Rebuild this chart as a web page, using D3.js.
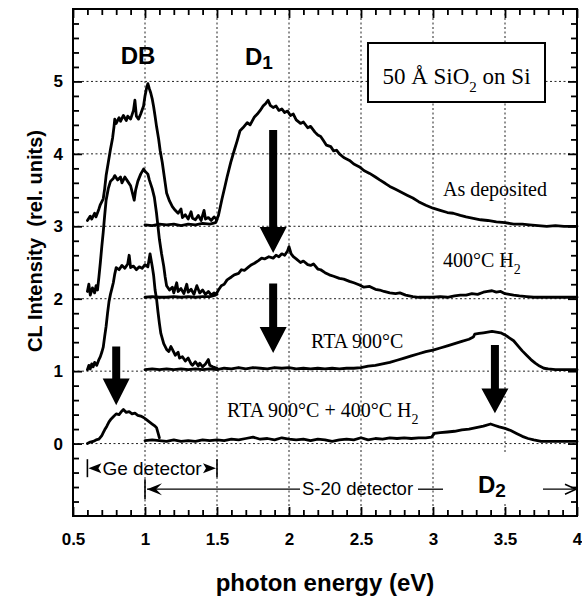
<!DOCTYPE html>
<html>
<head>
<meta charset="utf-8">
<script src="https://cdn.jsdelivr.net/npm/d3@7"></script>
<style>
  html, body { margin: 0; padding: 0; background: #fff; }
  svg { display: block; }
</style>
</head>
<body>
<svg id="chart" width="582" height="598"></svg>
<script>
// Cathodoluminescence spectra of 50 Å SiO2 on Si, offset by one unit per treatment.
// Each spectrum has a Ge-detector segment (0.6–1.5 eV) and an S-20 segment (1.0–4.0 eV).

const xTicksMajor = [0.5, 1, 1.5, 2, 2.5, 3, 3.5, 4];
const yTicksMajor = [0, 1, 2, 3, 4, 5];
const xGrid = [1, 1.5, 2, 2.5, 3, 3.5];
const yGrid = [0, 1, 2, 3, 4, 5];

// As deposited (offset 3)
const asDepGe = [[0.60,3.08],[0.62,3.14],[0.63,3.10],[0.65,3.18],[0.66,3.13],[0.68,3.24],[0.69,3.30],[0.71,3.38],[0.72,3.52],[0.73,3.70],[0.745,3.88],[0.76,4.06],[0.775,4.22],[0.785,4.38],[0.79,4.48],[0.80,4.42],[0.82,4.50],[0.83,4.45],[0.85,4.53],[0.87,4.46],[0.88,4.52],[0.90,4.48],[0.92,4.60],[0.93,4.74],[0.94,4.52],[0.955,4.48],[0.97,4.55],[0.99,4.66],[1.00,4.80],[1.01,4.90],[1.02,4.97],[1.03,4.90],[1.04,4.84],[1.05,4.76],[1.06,4.65],[1.07,4.52],[1.08,4.38],[1.095,4.20],[1.105,4.05],[1.12,3.88],[1.13,3.74],[1.14,3.60],[1.15,3.46],[1.17,3.35],[1.19,3.27],[1.21,3.22],[1.23,3.18],[1.25,3.24],[1.26,3.12],[1.28,3.16],[1.30,3.10],[1.32,3.20],[1.33,3.11],[1.35,3.09],[1.37,3.15],[1.39,3.08],[1.41,3.22],[1.42,3.10],[1.44,3.12],[1.46,3.08],[1.48,3.13],[1.50,3.09]];
const asDepS20 = [[1.00,3.02],[1.05,3.01],[1.10,3.03],[1.15,3.02],[1.20,3.03],[1.25,3.01],[1.30,3.03],[1.35,3.02],[1.40,3.04],[1.45,3.03],[1.49,3.05],[1.51,3.15],[1.535,3.38],[1.555,3.55],[1.57,3.68],[1.595,3.88],[1.62,4.05],[1.64,4.18],[1.66,4.32],[1.68,4.36],[1.71,4.43],[1.73,4.40],[1.76,4.51],[1.78,4.55],[1.80,4.60],[1.82,4.66],[1.84,4.70],[1.855,4.74],[1.87,4.67],[1.89,4.64],[1.91,4.66],[1.93,4.60],[1.95,4.62],[1.97,4.57],[1.99,4.59],[2.01,4.53],[2.03,4.55],[2.05,4.47],[2.08,4.42],[2.10,4.44],[2.13,4.36],[2.15,4.38],[2.18,4.30],[2.20,4.26],[2.22,4.24],[2.24,4.18],[2.26,4.12],[2.29,4.10],[2.31,4.04],[2.33,4.05],[2.35,4.00],[2.38,3.95],[2.42,3.91],[2.45,3.86],[2.49,3.82],[2.52,3.77],[2.56,3.73],[2.60,3.68],[2.63,3.64],[2.67,3.59],[2.70,3.55],[2.74,3.51],[2.77,3.48],[2.82,3.43],[2.86,3.39],[2.90,3.34],[2.95,3.29],[3.00,3.25],[3.05,3.22],[3.10,3.19],[3.14,3.18],[3.19,3.15],[3.23,3.13],[3.28,3.11],[3.33,3.09],[3.38,3.08],[3.44,3.06],[3.50,3.05],[3.56,3.03],[3.62,3.03],[3.67,3.02],[3.73,3.01],[3.79,3.00],[3.85,3.01],[3.91,3.00],[3.97,3.00],[4.00,3.00]];

// 400 °C H2 anneal (offset 2)
const h2Ge = [[0.60,2.10],[0.61,2.20],[0.62,2.05],[0.635,2.15],[0.65,2.08],[0.66,2.18],[0.67,2.12],[0.68,2.30],[0.69,2.50],[0.70,2.72],[0.71,2.92],[0.72,3.15],[0.73,3.36],[0.745,3.52],[0.76,3.62],[0.78,3.66],[0.79,3.70],[0.81,3.64],[0.83,3.68],[0.84,3.60],[0.86,3.68],[0.88,3.62],[0.90,3.56],[0.91,3.48],[0.925,3.36],[0.935,3.50],[0.95,3.62],[0.97,3.72],[0.99,3.79],[1.00,3.76],[1.02,3.72],[1.03,3.64],[1.05,3.52],[1.065,3.40],[1.08,3.18],[1.09,3.00],[1.10,2.82],[1.115,2.62],[1.13,2.45],[1.14,2.30],[1.15,2.18],[1.17,2.12],[1.19,2.16],[1.20,2.08],[1.22,2.22],[1.23,2.10],[1.25,2.14],[1.27,2.07],[1.29,2.20],[1.30,2.09],[1.32,2.13],[1.34,2.06],[1.36,2.18],[1.38,2.08],[1.40,2.12],[1.42,2.06],[1.44,2.10],[1.46,2.05],[1.48,2.08],[1.50,2.06]];
const h2S20 = [[1.00,2.02],[1.05,2.03],[1.10,2.02],[1.15,2.02],[1.20,2.03],[1.25,2.02],[1.30,2.03],[1.35,2.02],[1.40,2.03],[1.45,2.03],[1.49,2.05],[1.51,2.12],[1.53,2.18],[1.55,2.20],[1.57,2.26],[1.60,2.30],[1.62,2.33],[1.65,2.35],[1.67,2.40],[1.69,2.39],[1.72,2.44],[1.74,2.47],[1.76,2.49],[1.79,2.53],[1.81,2.56],[1.83,2.55],[1.86,2.58],[1.89,2.56],[1.91,2.60],[1.93,2.58],[1.95,2.62],[1.97,2.60],[1.99,2.66],[2.00,2.72],[2.015,2.62],[2.03,2.58],[2.05,2.55],[2.08,2.50],[2.10,2.52],[2.13,2.47],[2.15,2.46],[2.17,2.48],[2.20,2.41],[2.22,2.40],[2.25,2.36],[2.28,2.33],[2.31,2.31],[2.35,2.28],[2.38,2.27],[2.42,2.24],[2.45,2.22],[2.49,2.19],[2.52,2.16],[2.56,2.17],[2.60,2.13],[2.63,2.12],[2.66,2.10],[2.70,2.08],[2.74,2.07],[2.77,2.08],[2.81,2.05],[2.86,2.03],[2.90,2.02],[2.95,2.02],[3.00,2.02],[3.05,2.03],[3.10,2.02],[3.15,2.04],[3.19,2.05],[3.23,2.05],[3.27,2.07],[3.31,2.06],[3.35,2.09],[3.38,2.10],[3.41,2.11],[3.44,2.09],[3.47,2.10],[3.50,2.07],[3.53,2.06],[3.56,2.05],[3.60,2.04],[3.65,2.03],[3.70,2.02],[3.76,2.02],[3.82,2.02],[3.88,2.02],[3.94,2.02],[4.00,2.02]];

// RTA 900 °C (offset 1)
const rtaGe = [[0.60,1.02],[0.61,1.08],[0.62,1.03],[0.63,1.10],[0.64,1.06],[0.65,1.12],[0.665,1.08],[0.68,1.16],[0.69,1.20],[0.70,1.26],[0.71,1.33],[0.72,1.48],[0.73,1.62],[0.74,1.80],[0.75,1.96],[0.76,2.06],[0.77,2.14],[0.78,2.22],[0.79,2.34],[0.80,2.43],[0.82,2.40],[0.84,2.46],[0.86,2.42],[0.88,2.48],[0.89,2.60],[0.90,2.43],[0.92,2.45],[0.94,2.40],[0.96,2.44],[0.98,2.42],[1.00,2.47],[1.02,2.44],[1.035,2.62],[1.05,2.45],[1.06,2.32],[1.07,2.12],[1.08,2.00],[1.09,1.82],[1.10,1.66],[1.11,1.52],[1.13,1.38],[1.15,1.30],[1.165,1.27],[1.18,1.34],[1.19,1.30],[1.21,1.22],[1.23,1.26],[1.24,1.18],[1.26,1.20],[1.28,1.14],[1.30,1.18],[1.32,1.10],[1.33,1.08],[1.35,1.13],[1.37,1.07],[1.38,1.11],[1.40,1.06],[1.42,1.10],[1.44,1.16],[1.45,1.08],[1.47,1.06],[1.50,1.04]];
const rtaS20 = [[1.00,1.02],[1.05,1.03],[1.10,1.02],[1.15,1.03],[1.20,1.02],[1.25,1.03],[1.30,1.02],[1.35,1.03],[1.40,1.02],[1.45,1.03],[1.50,1.02],[1.55,1.04],[1.60,1.03],[1.65,1.05],[1.70,1.03],[1.75,1.05],[1.80,1.04],[1.85,1.03],[1.90,1.05],[1.95,1.04],[2.00,1.05],[2.05,1.03],[2.10,1.04],[2.15,1.03],[2.20,1.04],[2.25,1.03],[2.30,1.04],[2.35,1.03],[2.40,1.04],[2.45,1.04],[2.50,1.05],[2.55,1.07],[2.60,1.08],[2.65,1.10],[2.70,1.12],[2.75,1.15],[2.80,1.18],[2.85,1.21],[2.90,1.24],[2.95,1.27],[3.00,1.29],[3.05,1.32],[3.10,1.35],[3.15,1.38],[3.20,1.41],[3.25,1.44],[3.28,1.47],[3.29,1.51],[3.32,1.52],[3.35,1.53],[3.38,1.54],[3.41,1.55],[3.44,1.54],[3.47,1.53],[3.50,1.50],[3.53,1.46],[3.56,1.42],[3.59,1.35],[3.62,1.28],[3.65,1.22],[3.68,1.16],[3.71,1.11],[3.74,1.07],[3.77,1.04],[3.80,1.03],[3.85,1.02],[3.90,1.02],[3.95,1.02],[4.00,1.02]];

// RTA 900 °C + 400 °C H2 (offset 0)
const rtaH2Ge = [[0.60,0.00],[0.62,0.02],[0.64,0.03],[0.66,0.05],[0.68,0.06],[0.70,0.11],[0.71,0.15],[0.72,0.19],[0.735,0.24],[0.75,0.30],[0.765,0.34],[0.78,0.37],[0.80,0.41],[0.82,0.40],[0.84,0.45],[0.85,0.47],[0.87,0.43],[0.89,0.44],[0.91,0.41],[0.93,0.42],[0.95,0.39],[0.97,0.38],[0.99,0.36],[1.01,0.33],[1.03,0.30],[1.05,0.27],[1.07,0.24],[1.08,0.22],[1.09,0.15],[1.10,0.08]];
const rtaH2S20 = [[1.00,0.04],[1.05,0.05],[1.10,0.04],[1.15,0.03],[1.20,0.05],[1.25,0.03],[1.30,0.04],[1.35,0.03],[1.40,0.05],[1.45,0.04],[1.50,0.05],[1.55,0.04],[1.60,0.06],[1.65,0.05],[1.70,0.07],[1.75,0.09],[1.80,0.06],[1.85,0.07],[1.90,0.05],[1.95,0.08],[2.00,0.06],[2.05,0.05],[2.10,0.06],[2.15,0.04],[2.20,0.06],[2.25,0.05],[2.30,0.03],[2.35,0.05],[2.40,0.06],[2.45,0.05],[2.50,0.08],[2.55,0.05],[2.60,0.07],[2.65,0.06],[2.70,0.08],[2.75,0.07],[2.80,0.08],[2.85,0.07],[2.90,0.08],[2.95,0.08],[2.99,0.09],[3.01,0.14],[3.05,0.15],[3.10,0.16],[3.15,0.17],[3.20,0.19],[3.25,0.20],[3.30,0.22],[3.35,0.24],[3.40,0.27],[3.43,0.25],[3.46,0.23],[3.50,0.21],[3.54,0.18],[3.58,0.14],[3.62,0.10],[3.66,0.07],[3.70,0.05],[3.75,0.03],[3.80,0.03],[3.90,0.03],[4.00,0.03]];

const spectra = [asDepGe, asDepS20, h2Ge, h2S20, rtaGe, rtaS20, rtaH2Ge, rtaH2S20];

// Downward arrows marking the bands: energy, shaft top, head base, tip
const arrowEnergies = [1.89, 1.89, 0.80, 3.43];
const arrowTops = [4.33, 2.21, 1.34, 1.36];
const arrowBases = [2.99, 1.61, 0.90, 0.76];
const arrowTips = [2.63, 1.25, 0.53, 0.42];

const svg = d3.select("#chart");
const plotL = 73, plotR = 577, plotT = 9, plotB = 516;
const x = d3.scaleLinear().domain([0.5, 4]).range([plotL, plotR]);
const y = d3.scaleLinear().domain([-1, 6]).range([plotB, plotT]);

const SANS = "'Liberation Sans', Arial, sans-serif";
const SERIF = "'Liberation Serif', 'Times New Roman', serif";

// dotted grid
const grid = svg.append("g").attr("stroke", "#222").attr("stroke-width", 1).attr("stroke-dasharray", "2,2.5");
grid.selectAll("line.h").data(yGrid).join("line").attr("class", "h")
  .attr("x1", plotL).attr("x2", plotR).attr("y1", d => y(d)).attr("y2", d => y(d));
grid.selectAll("line.v").data(xGrid).join("line").attr("class", "v")
  .attr("y1", plotT).attr("y2", plotB).attr("x1", d => x(d)).attr("x2", d => x(d));

// spectra
const line = d3.line().x(d => x(d[0])).y(d => y(d[1]));
svg.append("g").selectAll("path").data(spectra).join("path")
  .attr("d", line)
  .attr("fill", "none").attr("stroke", "#000").attr("stroke-width", 2.8)
  .attr("stroke-linejoin", "round").attr("stroke-linecap", "round");

// band arrows
svg.append("g").selectAll("path").data(arrowEnergies).join("path")
  .attr("d", (e, i) => {
    const cx = x(e), yt = y(arrowTops[i]), yb = y(arrowBases[i]), yp = y(arrowTips[i]);
    return `M${cx-4},${yt}L${cx+4},${yt}L${cx+4},${yb}L${cx+13.5},${yb}L${cx},${yp}L${cx-13.5},${yb}L${cx-4},${yb}Z`;
  })
  .attr("fill", "#000");

// detector ranges
const det = svg.append("g").attr("stroke", "#000").attr("fill", "none");
const geY = y(-0.34);
det.append("line").attr("x1", x(0.6)).attr("x2", x(0.6)).attr("y1", geY - 9).attr("y2", geY + 9).attr("stroke-width", 1.6);
det.append("line").attr("x1", x(1.5)).attr("x2", x(1.5)).attr("y1", geY - 9).attr("y2", geY + 9).attr("stroke-width", 1.6);
svg.append("path").attr("d", `M${x(0.6)+1},${geY}L${x(0.6)+14},${geY-5}L${x(0.6)+11},${geY}L${x(0.6)+14},${geY+5}Z`).attr("fill", "#000");
svg.append("path").attr("d", `M${x(1.5)-1},${geY}L${x(1.5)-14},${geY-5}L${x(1.5)-11},${geY}L${x(1.5)-14},${geY+5}Z`).attr("fill", "#000");
svg.append("text").attr("x", x(0.6) + 15).attr("y", geY + 7)
  .attr("font-family", SANS).attr("font-size", 19).text("Ge detector");

const s20Y = y(-0.63);
det.append("line").attr("x1", x(1.0)).attr("x2", x(1.0)).attr("y1", s20Y - 10).attr("y2", s20Y + 10).attr("stroke-width", 1.6);
det.append("line").attr("x1", x(1.0) + 2).attr("x2", 300).attr("y1", s20Y).attr("y2", s20Y).attr("stroke-width", 1.3);
det.append("line").attr("x1", 418).attr("x2", 443).attr("y1", s20Y).attr("y2", s20Y).attr("stroke-width", 1.3);
svg.append("path").attr("d", `M${x(1.0)+2},${s20Y}L${x(1.0)+17},${s20Y-6}L${x(1.0)+11},${s20Y}L${x(1.0)+17},${s20Y+6}Z`).attr("fill", "#000");
svg.append("text").attr("x", 302).attr("y", s20Y + 6)
  .attr("font-family", SANS).attr("font-size", 18.5).text("S-20 detector");
det.append("line").attr("x1", 543).attr("x2", x(4) - 1).attr("y1", s20Y).attr("y2", s20Y).attr("stroke-width", 1.3);
det.append("path").attr("d", `M${x(4)-12},${s20Y-5}L${x(4)-1},${s20Y}L${x(4)-12},${s20Y+5}`).attr("stroke-width", 1.5);

// band names
const bold = svg.append("g").attr("font-family", SANS).attr("font-weight", "bold").attr("font-size", 24);
bold.append("text").attr("x", 138).attr("y", 64).attr("text-anchor", "middle").text("DB");
const d1 = bold.append("text").attr("x", 245).attr("y", 65);
d1.append("tspan").text("D");
d1.append("tspan").attr("dy", 4).attr("font-size", 19).text("1");
bold.append("rect").attr("x", 474).attr("y", 454).attr("width", 40).attr("height", 50).attr("fill", "#fff");
const d2 = bold.append("text").attr("x", 478).attr("y", 493);
d2.append("tspan").text("D");
d2.append("tspan").attr("dy", 4).attr("font-size", 19).text("2");

// sample box
svg.append("rect").attr("x", 368).attr("y", 43).attr("width", 177).attr("height", 59)
  .attr("fill", "#fff").attr("stroke", "#000").attr("stroke-width", 2);
const box = svg.append("text").attr("x", 456.5).attr("y", 84).attr("text-anchor", "middle")
  .attr("font-family", SERIF).attr("font-size", 23);
box.append("tspan").text("50 Å SiO");
box.append("tspan").attr("dy", 8).attr("font-size", 15).text("2");
box.append("tspan").attr("dy", -8).text(" on Si");

// treatment labels
const serif = svg.append("g").attr("font-family", SERIF).attr("font-size", 20);
serif.append("text").attr("x", 443).attr("y", 196).text("As deposited");
const l2 = serif.append("text").attr("x", 443).attr("y", 267);
l2.append("tspan").text("400°C H");
l2.append("tspan").attr("dy", 7).attr("font-size", 14).text("2");
serif.append("text").attr("x", 311).attr("y", 348).text("RTA 900°C");
const l4 = serif.append("text").attr("x", 227).attr("y", 417);
l4.append("tspan").text("RTA 900°C + 400°C H");
l4.append("tspan").attr("dy", 7).attr("font-size", 14).text("2");

// axes with inward ticks on all four sides
const xMinor = d3.range(5, 41).map(d => d / 10).filter(d => !xTicksMajor.includes(d));
const yMinor = d3.range(-5, 31).map(d => d / 5).filter(d => !Number.isInteger(d));
const fmtX = d => (Number.isInteger(d) ? d3.format("d")(d) : d3.format(".1f")(d));

function styleAxis(g) {
  g.select(".domain").remove();
  g.selectAll(".tick line").attr("stroke", "#000").attr("stroke-width", 1.8);
  g.selectAll("text").attr("font-family", SANS).attr("font-weight", "bold").attr("font-size", 17).attr("fill", "#000");
}

svg.append("g").attr("transform", `translate(0,${plotB})`)
  .call(d3.axisBottom(x).tickValues(xTicksMajor).tickSize(-9).tickPadding(17).tickFormat(fmtX)).call(styleAxis);
svg.append("g").attr("transform", `translate(0,${plotB})`)
  .call(d3.axisBottom(x).tickValues(xMinor).tickSize(-6).tickFormat("")).call(styleAxis);
svg.append("g").attr("transform", `translate(0,${plotT})`)
  .call(d3.axisTop(x).tickValues(xTicksMajor).tickSize(-9).tickFormat("")).call(styleAxis);
svg.append("g").attr("transform", `translate(0,${plotT})`)
  .call(d3.axisTop(x).tickValues(xMinor).tickSize(-6).tickFormat("")).call(styleAxis);

svg.append("g").attr("transform", `translate(${plotL},0)`)
  .call(d3.axisLeft(y).tickValues(yTicksMajor).tickSize(-9).tickPadding(10).tickFormat(d3.format("d"))).call(styleAxis);
svg.append("g").attr("transform", `translate(${plotL},0)`)
  .call(d3.axisLeft(y).tickValues(yMinor).tickSize(-6).tickFormat("")).call(styleAxis);
svg.append("g").attr("transform", `translate(${plotR},0)`)
  .call(d3.axisRight(y).tickValues(yTicksMajor).tickSize(-9).tickFormat("")).call(styleAxis);
svg.append("g").attr("transform", `translate(${plotR},0)`)
  .call(d3.axisRight(y).tickValues(yMinor).tickSize(-6).tickFormat("")).call(styleAxis);

// frame
svg.append("rect").attr("x", plotL).attr("y", plotT).attr("width", plotR - plotL).attr("height", plotB - plotT)
  .attr("fill", "none").attr("stroke", "#000").attr("stroke-width", 2);

// axis titles
svg.append("text").attr("transform", "translate(42,241) rotate(-90)").attr("text-anchor", "middle")
  .attr("font-family", SANS).attr("font-weight", "bold").attr("font-size", 20)
  .style("white-space", "pre").text("CL Intensity  (rel. units)");
svg.append("text").attr("x", (plotL + plotR) / 2).attr("y", 591).attr("text-anchor", "middle")
  .attr("font-family", SANS).attr("font-weight", "bold").attr("font-size", 24)
  .text("photon energy (eV)");
</script>
</body>
</html>
